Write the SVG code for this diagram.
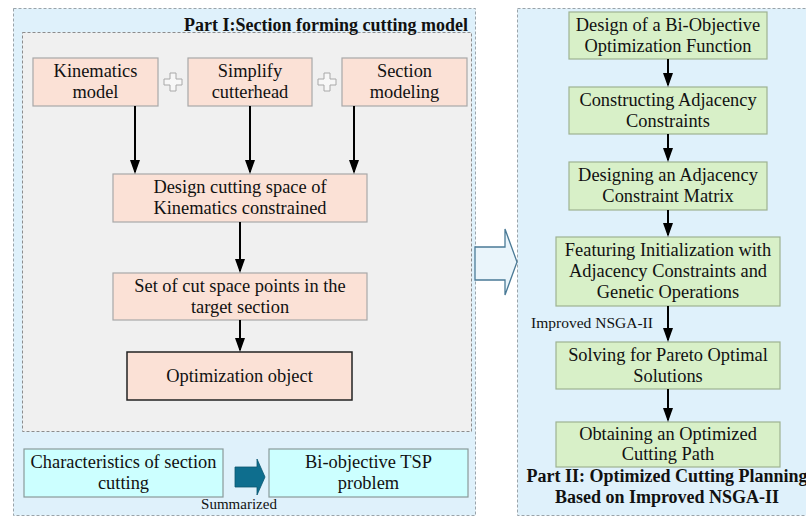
<svg xmlns="http://www.w3.org/2000/svg" width="806" height="518" viewBox="0 0 806 518">
<defs>
<style>
.panel{fill:#dff1fb;stroke:#9aa4aa;stroke-width:1;stroke-dasharray:3,2;}
.inner{fill:#f0f0f0;stroke:#8c8c8c;stroke-width:1;stroke-dasharray:3,2;}
.pink{fill:#fbe1d6;stroke:#a8a8a8;stroke-width:1.2;}
.pinkd{fill:#fbe1d6;stroke:#222;stroke-width:1.5;}
.cyan{fill:#ccffff;stroke:#8a9a9a;stroke-width:1.2;}
.green{fill:#d8f0c8;stroke:#9eb292;stroke-width:1.2;}
.arr{stroke:#000;stroke-width:2;fill:none;marker-end:url(#ah);}
.plus{fill:#f7f7f7;stroke:#a8a8a8;stroke-width:1;}
</style>
<marker id="ah" viewBox="0 0 14 10" markerWidth="14" markerHeight="10" refX="12" refY="5" orient="auto" markerUnits="userSpaceOnUse">
<path d="M0,0 L14,5 L0,10 z" fill="#000"/>
</marker>
</defs>
<rect x="0" y="0" width="806" height="518" fill="#ffffff"/>

<g id="part1-panel">
<rect class="panel" x="13.5" y="8.5" width="462" height="507"/>
<rect class="inner" x="22.5" y="32.5" width="449" height="399"/>
<text x="468" y="31" text-anchor="end" font-family="Liberation Serif, serif" font-size="18" font-weight="bold" fill="#111">Part I:Section forming cutting model</text>
</g>

<g id="part2-panel">
<rect class="panel" x="517.5" y="8.5" width="295" height="507"/>
<g font-family="Liberation Serif, serif" font-size="18" font-weight="bold" fill="#111" text-anchor="middle">
<text x="667" y="482">Part II: Optimized Cutting Planning</text>
<text x="667" y="503">Based on Improved NSGA-II</text>
</g>
</g>

<g font-family="Liberation Serif, serif" font-size="18.4" fill="#111" text-anchor="middle">
<g id="kinematics-model">
<rect class="pink" x="33" y="58" width="125" height="48"/>
<text x="95.5" y="77">Kinematics</text>
<text x="95.5" y="98">model</text>
</g>
<g id="plus1">
<path class="plus" d="M170,73 h6 v6 h6 v6 h-6 v6 h-6 v-6 h-6 v-6 h6 z"/>
</g>
<g id="simplify-cutterhead">
<rect class="pink" x="188" y="58" width="124" height="48"/>
<text x="250" y="77">Simplify</text>
<text x="250" y="98">cutterhead</text>
</g>
<g id="plus2">
<path class="plus" d="M324,73 h6 v6 h6 v6 h-6 v6 h-6 v-6 h-6 v-6 h6 z"/>
</g>
<g id="section-modeling">
<rect class="pink" x="342" y="58" width="125" height="48"/>
<text x="404.5" y="77">Section</text>
<text x="404.5" y="98">modeling</text>
</g>
<g id="design-cutting-space">
<rect class="pink" x="113" y="174" width="254" height="48"/>
<text x="240" y="193">Design cutting space of</text>
<text x="240" y="214">Kinematics constrained</text>
</g>
<g id="cut-space-points">
<rect class="pink" x="113" y="273" width="254" height="47"/>
<text x="240" y="292">Set of cut space points in the</text>
<text x="240" y="313">target section</text>
</g>
<g id="optimization-object">
<rect class="pinkd" x="127" y="352" width="225" height="48"/>
<text x="239.5" y="382">Optimization object</text>
</g>

<g id="characteristics">
<rect class="cyan" x="24" y="449" width="199" height="48"/>
<text x="123.5" y="468">Characteristics of section</text>
<text x="123.5" y="489">cutting</text>
</g>
<g id="summarized-arrow">
<path d="M235,467 H257 V459 L265,477 L257,495 V487 H235 z" fill="#0e6e8e" stroke="#0a5570" stroke-width="0.8"/>
<text x="239" y="509" font-size="15">Summarized</text>
</g>
<g id="bi-objective-tsp">
<rect class="cyan" x="269" y="449" width="199" height="48"/>
<text x="368.5" y="468">Bi-objective TSP</text>
<text x="368.5" y="489">problem</text>
</g>

<g id="part-arrow">
<path d="M475,247 H505 V229 L517,262 L505,295 V280 H475 z" fill="#eaf5fb" stroke="#4a7a96" stroke-width="1.3"/>
</g>

<g id="bi-objective-function">
<rect class="green" x="569" y="12" width="198" height="47"/>
<text x="668" y="31">Design of a Bi-Objective</text>
<text x="668" y="52">Optimization Function</text>
</g>
<g id="adjacency-constraints">
<rect class="green" x="569" y="87" width="198" height="47"/>
<text x="668" y="106">Constructing Adjacency</text>
<text x="668" y="127">Constraints</text>
</g>
<g id="constraint-matrix">
<rect class="green" x="569" y="162" width="198" height="48"/>
<text x="668" y="181">Designing an Adjacency</text>
<text x="668" y="202">Constraint Matrix</text>
</g>
<g id="featuring-initialization">
<rect class="green" x="556" y="237" width="224" height="69"/>
<text x="668" y="256">Featuring Initialization with</text>
<text x="668" y="277">Adjacency Constraints and</text>
<text x="668" y="298">Genetic Operations</text>
</g>
<g id="pareto-solutions">
<rect class="green" x="556" y="342" width="224" height="47"/>
<text x="668" y="361">Solving for Pareto Optimal</text>
<text x="668" y="382">Solutions</text>
</g>
<g id="optimized-path">
<rect class="green" x="556" y="422" width="224" height="45"/>
<text x="668" y="440">Obtaining an Optimized</text>
<text x="668" y="460">Cutting Path</text>
</g>

<g id="connectors">
<line class="arr" x1="135" y1="106" x2="135" y2="172"/>
<line class="arr" x1="250" y1="106" x2="250" y2="172"/>
<line class="arr" x1="354" y1="106" x2="354" y2="172"/>
<line class="arr" x1="240" y1="222" x2="240" y2="271"/>
<line class="arr" x1="240" y1="320" x2="240" y2="350"/>
<line class="arr" x1="668" y1="59" x2="668" y2="85"/>
<line class="arr" x1="668" y1="134" x2="668" y2="160"/>
<line class="arr" x1="668" y1="210" x2="668" y2="235"/>
<line class="arr" x1="668" y1="306" x2="668" y2="340"/>
<text x="592" y="328" font-size="15.5">Improved NSGA-II</text>
<line class="arr" x1="668" y1="389" x2="668" y2="420"/>
</g>
</g>
</svg>
